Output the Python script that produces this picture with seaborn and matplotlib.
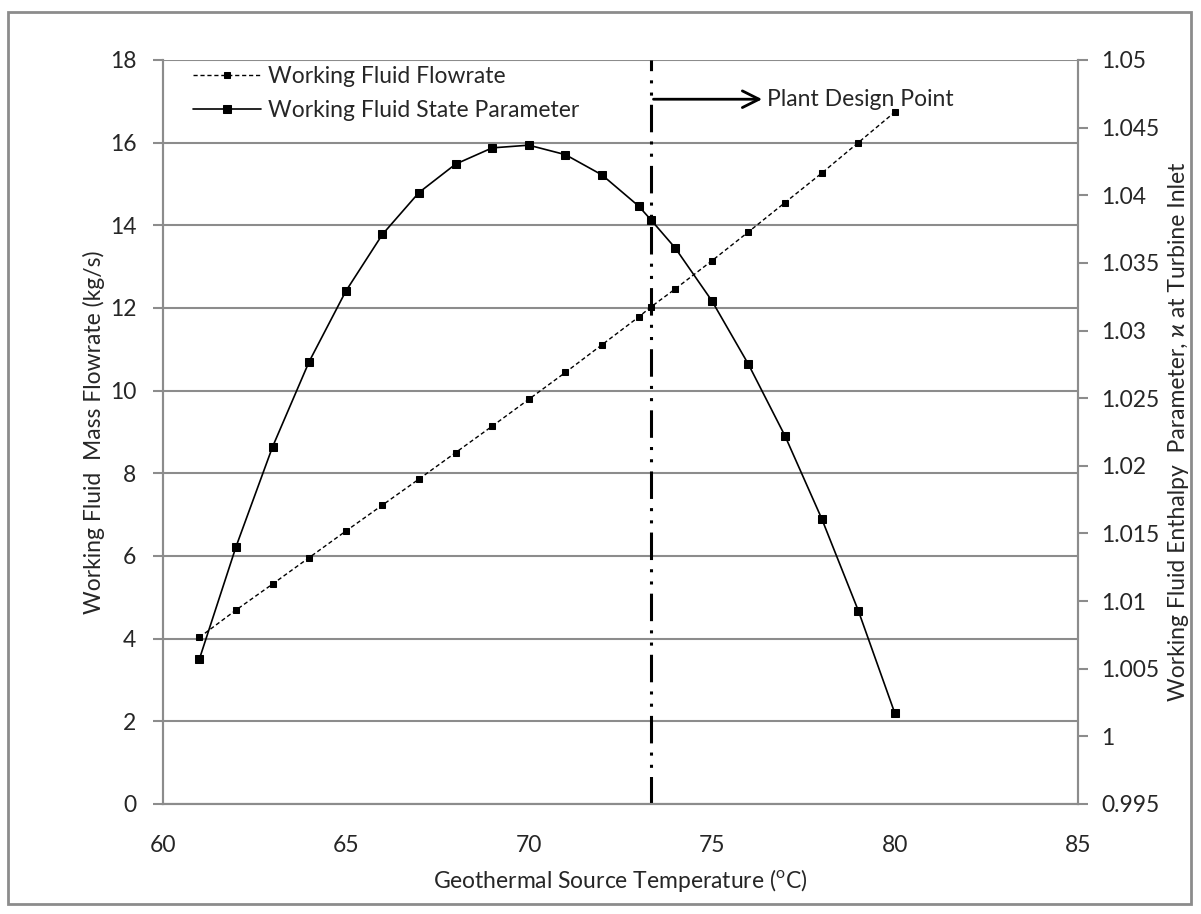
import numpy as np
import pandas as pd
import matplotlib
matplotlib.use('Agg')
import matplotlib.pyplot as plt
import seaborn as sns
from matplotlib.patches import Rectangle

sns.set_style('white')
plt.rcParams['font.family'] = ['Lato', 'DejaVu Sans']
plt.rcParams['mathtext.fontset'] = 'custom'
plt.rcParams['mathtext.rm'] = 'Lato'

# data
temperature = [61, 62, 63, 64, 65, 66, 67, 68, 69, 70, 71, 72, 73, 73.33,
               74, 75, 76, 77, 78, 79, 80]
flowrate = [4.03, 4.69, 5.32, 5.96, 6.60, 7.23, 7.86, 8.50, 9.14, 9.79, 10.44,
            11.11, 11.78, 12.02, 12.46, 13.14, 13.84, 14.55, 15.26, 16.00, 16.74]
state_param = [1.0057, 1.0140, 1.0214, 1.0277, 1.0329, 1.0371, 1.0402, 1.0423,
               1.0435, 1.0437, 1.0430, 1.0415, 1.0392, 1.0382, 1.0361, 1.0322,
               1.0275, 1.0222, 1.0161, 1.0093, 1.0017]
design_point = 73.33

df = pd.DataFrame({'T': temperature, 'flow': flowrate, 'kappa': state_param})

grey = '#8c8c8c'
fs = 16.5

fig = plt.figure(figsize=(12.01, 9.14), dpi=100)
ax = fig.add_axes([0.1355, 0.1204, 0.762, 0.814])
ax2 = ax.twinx()

sns.lineplot(data=df, x='T', y='flow', ax=ax, color='black', lw=1,
             linestyle=(0, (3, 2)), marker='s', markersize=4,
             markeredgecolor='black', label='Working Fluid Flowrate',
             legend=False, sort=False)
sns.lineplot(data=df, x='T', y='kappa', ax=ax2, color='black', lw=1.2,
             marker='s', markersize=6, markeredgecolor='black',
             label='Working Fluid State Parameter', legend=False, sort=False)

ax.set_xlim(60, 85)
ax.set_ylim(0, 18)
ax2.set_ylim(0.995, 1.05)
ax.set_xticks(np.arange(60, 86, 5))
ax.set_yticks(np.arange(0, 19, 2))
ax2.set_yticks(np.arange(0.995, 1.0501, 0.005))
ax2.set_yticklabels(['0.995', '1', '1.005', '1.01', '1.015', '1.02', '1.025',
                     '1.03', '1.035', '1.04', '1.045', '1.05'])

ax.yaxis.grid(True, color=grey, lw=1.5)
ax.set_axisbelow(True)
for a in (ax, ax2):
    for s in a.spines.values():
        s.set_color(grey)
        s.set_linewidth(1.5)
    a.spines['top'].set_visible(False)
    a.tick_params(axis='both', which='major', direction='out', length=7,
                  width=1.5, color=grey, labelsize=fs, pad=12)
ax.tick_params(axis='x', length=0, pad=22)
ax2.tick_params(axis='y', pad=10)

# vertical design point line
ax.axvline(design_point, color='black', lw=2.2,
           linestyle=(0, (9, 3, 1, 3, 1, 3)), zorder=1)
ax.annotate('', xy=(76.45, 17.05), xytext=(design_point, 17.05),
            arrowprops=dict(arrowstyle='->', color='black', lw=2,
                            mutation_scale=30))
ax.text(76.5, 17.05, 'Plant Design Point', fontsize=fs, va='center', ha='left')

ax.set_xlabel('Geothermal Source Temperature ($^{\\mathrm{o}}$C)', fontsize=fs,
              labelpad=8)
ax.set_ylabel('Working Fluid  Mass Flowrate (kg/s)', fontsize=fs)
ax2.set_ylabel('Working Fluid Enthalpy  Parameter, \u03f0 at Turbine Inlet',
               fontsize=fs)
ax.yaxis.set_label_coords(-0.063, 0.5)
ax2.yaxis.set_label_coords(1.099, 0.5)

h1, l1 = ax.get_legend_handles_labels()
h2, l2 = ax2.get_legend_handles_labels()
leg = ax2.legend(h1 + h2, l1 + l2, loc='upper left', frameon=False,
                 fontsize=fs, bbox_to_anchor=(0.01, 1.02), handlelength=3.0,
                 labelspacing=0.6, handletextpad=0.3)

fig.patches.append(Rectangle((0.007, 0.011), 0.985, 0.976,
                             transform=fig.transFigure, fill=False,
                             edgecolor=grey, lw=2))

fig.savefig('out.png', dpi=100)
